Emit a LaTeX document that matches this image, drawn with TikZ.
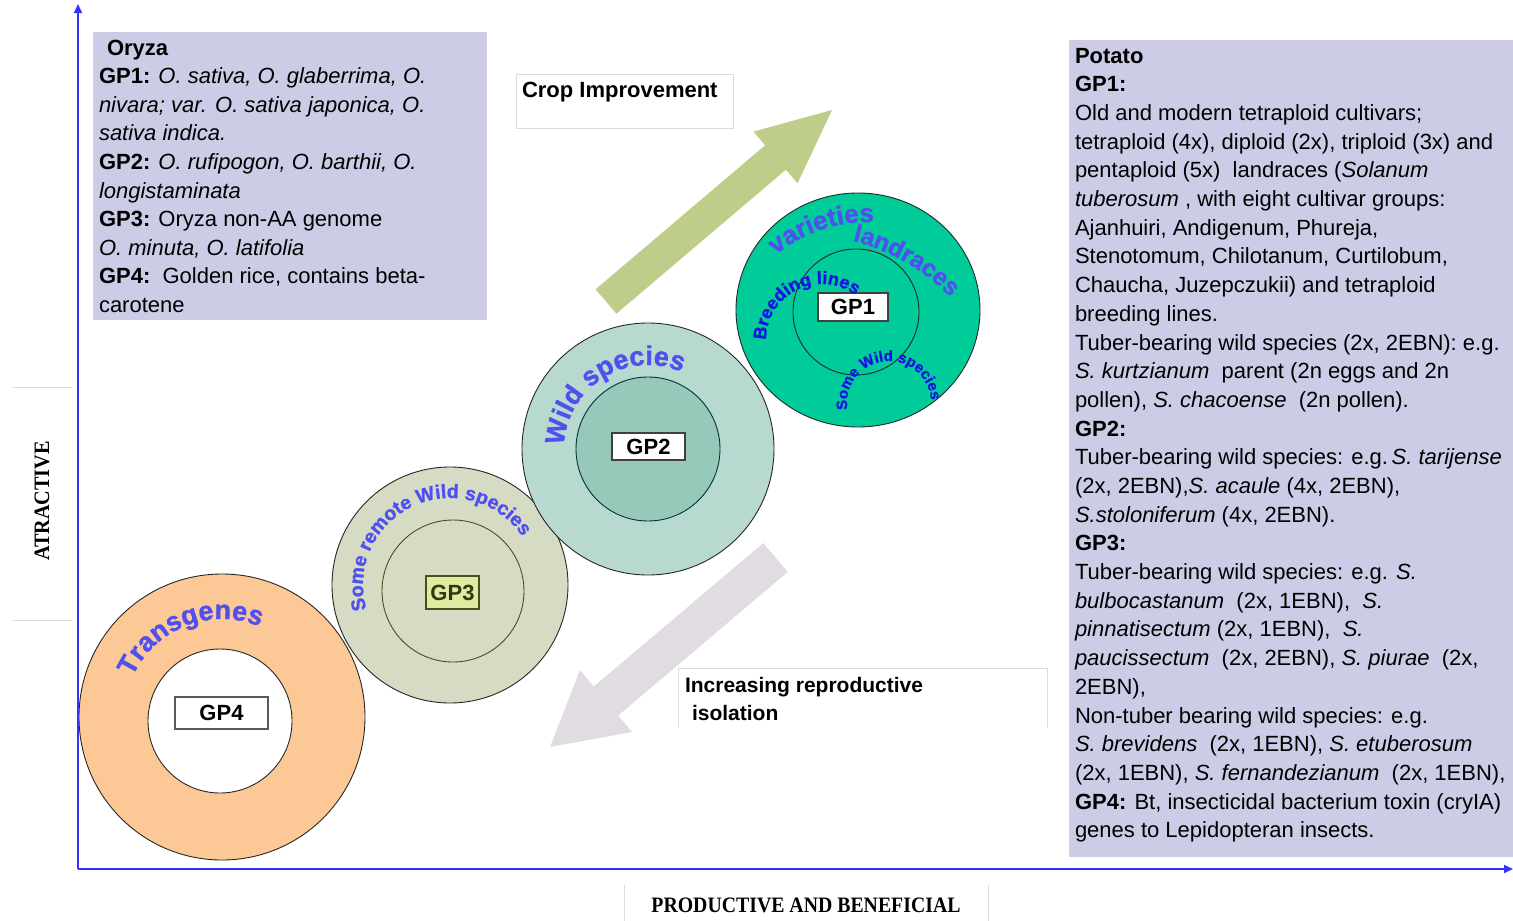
\documentclass[tikz,border=0pt]{standalone}
\usepackage{graphicx}
\usepackage{fontspec}
\setmainfont{Liberation Sans}
\newfontfamily\axisfont{Liberation Serif}
\newfontfamily\wordfont[FakeBold=1.2]{Liberation Sans Bold}
\usetikzlibrary{arrows.meta,decorations.text,shapes.geometric}

\definecolor{lavender}{RGB}{204,204,230}
\definecolor{gpone}{RGB}{0,204,153}
\definecolor{gptwoout}{RGB}{183,217,208}
\definecolor{gptwoin}{RGB}{151,201,186}
\definecolor{gpthree}{RGB}{214,220,195}
\definecolor{gpthreebox}{RGB}{221,236,160}
\definecolor{gpthreeline}{RGB}{70,80,30}
\definecolor{gpfour}{RGB}{252,200,150}
\definecolor{cropgreen}{RGB}{190,205,138}
\definecolor{isopink}{RGB}{225,220,225}
\definecolor{axisblue}{RGB}{51,51,255}
\definecolor{wordblue}{RGB}{80,80,240}
\definecolor{deepblue}{RGB}{20,20,225}
\definecolor{thingray}{RGB}{220,220,220}

% text set along a circular arc: centre, radius, start angle, end angle, colour, text
\newcommand\arcwords[6]{%
  \path[decorate, decoration={text along path, text align=center,
        text color=#5, text={#6}}]
    (#1) ++(#3:#2) arc[start angle=#3, end angle=#4, radius=#2];}

\begin{document}
\begin{tikzpicture}[x=1pt,y=1pt,
  panel/.style={fill=lavender, draw=none, inner sep=0, outer sep=0, anchor=north west},
  txt/.style={inner sep=0, outer sep=0, anchor=base west},
  ring/.style={circle, draw=black!85, line width=0.9pt, inner sep=0, outer sep=0},
  gpbox/.style={draw=black!75, line width=1.3pt, fill=white, inner sep=0,
    minimum height=28pt, font=\fontsize{22}{22}\selectfont\bfseries},
  axis/.style={draw=axisblue, line width=2pt},
  guide/.style={draw=thingray, line width=1pt}]

\useasboundingbox (0,0) rectangle (1513,-921);

% ---------- text panels ----------
\node[panel, minimum width=394pt, minimum height=288pt] (oryzabox) at (93,-32) {};
\node[panel, minimum width=450pt, minimum height=817pt] (potatobox) at (1069,-40) {};
\node[panel, fill=white, draw=thingray, line width=1pt,
      minimum width=217pt, minimum height=54pt] (cropbox) at (516,-74) {};
\draw[thingray, line width=1pt] (678,-728) -- (678,-668) -- (1047,-668) -- (1047,-728);

\node[txt] (oryzatext) at (99,-55) {\begin{minipage}[t]{385pt}\raggedright
\fontsize{22}{28.6}\selectfont
\hspace*{8pt}\textbf{Oryza}\\
\textbf{GP1:} \textit{O. sativa, O. glaberrima, O.}\\
\textit{nivara; var. O. sativa japonica, O.}\\
\textit{sativa indica.}\\
\textbf{GP2:} \textit{O. rufipogon, O. barthii, O.}\\
\textit{longistaminata}\\
\textbf{GP3:} Oryza non-AA genome\\
\textit{O. minuta, O. latifolia}\\
\textbf{GP4:}\ \ Golden rice, contains beta-\\
carotene
\end{minipage}};

\node[txt] (potatotext) at (1075,-63) {\begin{minipage}[t]{450pt}\raggedright
\fontsize{22}{28.7}\selectfont
\textbf{Potato}\\
\textbf{GP1:}\\
Old and modern tetraploid cultivars;\\
tetraploid (4x), diploid (2x), triploid (3x) and\\
pentaploid (5x)\ \ landraces (\textit{Solanum}\\
\textit{tuberosum} , with eight cultivar groups:\\
Ajanhuiri, Andigenum, Phureja,\\
Stenotomum, Chilotanum, Curtilobum,\\
Chaucha, Juzepczukii) and tetraploid\\
breeding lines.\\
Tuber-bearing wild species (2x, 2EBN): e.g.\\
\textit{S. kurtzianum}\ \ parent (2n eggs and 2n\\
pollen), \textit{S. chacoense}\ \ (2n pollen).\\
\textbf{GP2:}\\
Tuber-bearing wild species: e.g.\,\textit{S. tarijense}\\
(2x, 2EBN),\textit{S. acaule} (4x, 2EBN),\\
\textit{S.stoloniferum} (4x, 2EBN).\\
\textbf{GP3:}\\
Tuber-bearing wild species: e.g. \textit{S.}\\
\textit{bulbocastanum}\ \ (2x, 1EBN),\ \ \textit{S.}\\
\textit{pinnatisectum} (2x, 1EBN),\ \ \textit{S.}\\
\textit{paucissectum}\ \ (2x, 2EBN), \textit{S. piurae}\ \ (2x,\\
2EBN),\\
Non-tuber bearing wild species: e.g.\\
\textit{S. brevidens}\ \ (2x, 1EBN), \textit{S. etuberosum}\\
(2x, 1EBN), \textit{S. fernandezianum}\ \ (2x, 1EBN),\\
\textbf{GP4:} Bt, insecticidal bacterium toxin (cryIA)\\
genes to Lepidopteran insects.
\end{minipage}};

\node[txt, font=\fontsize{22}{22}\selectfont\bfseries] (croptext) at (522,-97) {Crop Improvement};
\node[txt] (isotext) at (685,-692) {\begin{minipage}[t]{360pt}\raggedright
\fontsize{21}{28}\selectfont\bfseries
Increasing reproductive\\
\hspace*{7pt}isolation
\end{minipage}};

% ---------- block arrows ----------
\fill[cropgreen] (595.6,-289.3) -- (765.1,-145.3) -- (753.5,-131.6) -- (832,-110)
  -- (797.5,-183.4) -- (785.9,-169.7) -- (616.4,-313.7) -- cycle;
\fill[isopink] (763.3,-543) -- (593.8,-686.5) -- (580,-670) -- (550,-747)
  -- (632,-732) -- (618.2,-715.5) -- (787.7,-572) -- cycle;

% ---------- gene pool rings ----------
\node[ring, fill=gpfour, minimum size=286pt] (gp4out) at (222,-717) {};
\node[ring, fill=white, minimum size=144pt] (gp4in) at (220,-721) {};

\node[ring, fill=gpthree, minimum size=236pt] (gp3out) at (450,-585) {};
\node[ring, draw=gpthreeline, minimum size=142pt] (gp3in) at (453,-591) {};

\node[ring, fill=gptwoout, minimum size=252pt] (gp2out) at (648,-449) {};
\node[ring, draw=black!60!teal, fill=gptwoin, minimum size=144pt] (gp2in) at (648,-449) {};

\node[ring, ellipse, fill=gpone, minimum width=244pt, minimum height=234pt] (gp1out) at (858,-310) {};
\node[ring, minimum size=126pt] (gp1in) at (856,-312) {};

% ---------- gene pool labels ----------
\node[gpbox, minimum width=70pt] (gp1) at (853,-307) {GP1};
\node[gpbox, minimum width=73pt, minimum height=27pt] (gp2) at (648.5,-446.5) {GP2};
\node[gpbox, minimum width=53pt, minimum height=33pt, fill=gpthreebox,
      draw=gpthreeline, text=gpthreeline!70!black] (gp3) at (452.5,-592.5) {GP3};
\node[gpbox, minimum width=93pt, minimum height=32pt, draw=black!65] (gp4) at (221.5,-713) {GP4};

% ---------- words along the rings ----------
\arcwords{222,-717}{98}{170}{53}{wordblue}{|\wordfont\fontsize{27}{27}\selectfont|Transgenes}
\arcwords{450,-585}{87}{210}{20}{wordblue}{|\wordfont\fontsize{19.5}{19.5}\selectfont|Some remote Wild species}
\arcwords{648,-449}{84}{190}{54}{wordblue}{|\wordfont\fontsize{27}{27}\selectfont|Wild species}
\arcwords{868,-367}{145}{140}{77}{wordblue}{|\wordfont\fontsize{26}{26}\selectfont|varieties}
\arcwords{804,-438}{203}{82}{38}{wordblue}{|\wordfont\fontsize{24.5}{24.5}\selectfont|landraces}
\arcwords{822,-340}{56}{204}{29}{deepblue}{|\wordfont\fontsize{18}{18}\selectfont|Breeding lines}
\arcwords{889,-403}{42}{200}{-7}{deepblue}{|\wordfont\fontsize{15}{15}\selectfont|Some Wild species}

% ---------- axes ----------
\coordinate (origin) at (78,-869);
\coordinate (ytop) at (78,-4);
\coordinate (xend) at (1513,-869);
\draw[axis, -{Triangle[length=9pt,width=8pt]}] (origin) -- (ytop);
\draw[axis, -{Triangle[length=9pt,width=8pt]}] (origin) -- (xend);

\coordinate (ga1) at (12,-387); \coordinate (gb1) at (72,-387);
\coordinate (ga2) at (12,-620); \coordinate (gb2) at (72,-620);
\draw[guide] (ga1) -- (gb1);
\draw[guide] (ga2) -- (gb2);
\coordinate (gc1) at (624,-885); \coordinate (gd1) at (624,-921);
\coordinate (gc2) at (988,-885); \coordinate (gd2) at (988,-921);
\draw[guide] (gc1) -- (gd1);
\draw[guide] (gc2) -- (gd2);

\node[rotate=90, inner sep=0] (ylabel) at (42,-501)
  {\axisfont\bfseries\fontsize{22}{22}\selectfont\scalebox{0.92}[1]{ATRACTIVE}};
\node[inner sep=0, anchor=base] (xlabel) at (806,-912)
  {\axisfont\bfseries\fontsize{22}{22}\selectfont\scalebox{0.9}[1]{PRODUCTIVE AND BENEFICIAL}};

\end{tikzpicture}
\end{document}
